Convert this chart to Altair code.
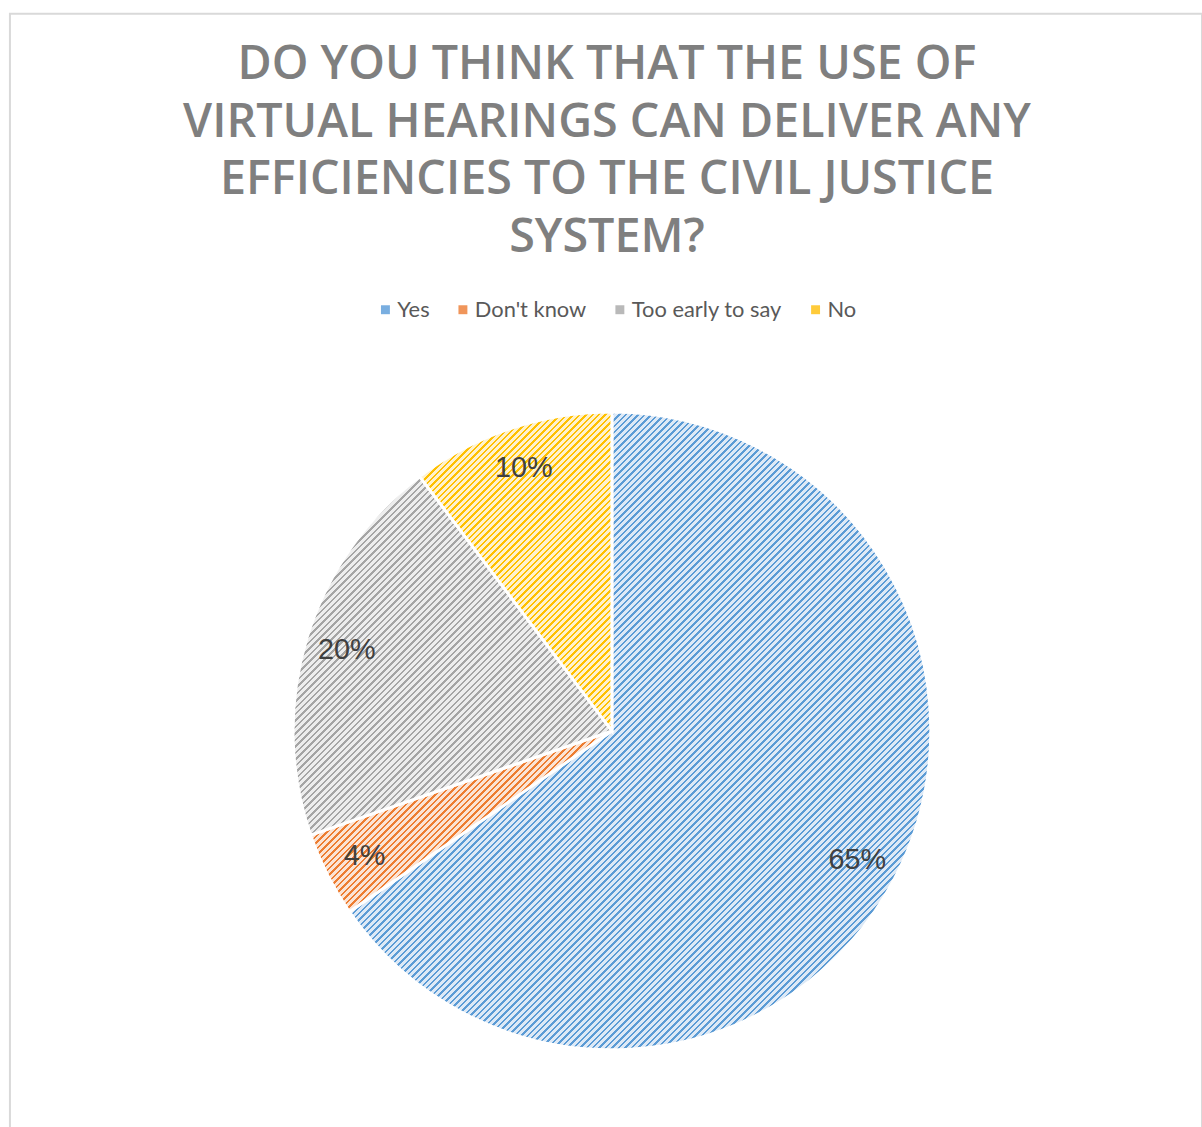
import math
import altair as alt
import pandas as pd

categories = ["Yes", "Don't know", "Too early to say", "No"]
values = [65.4, 4.3, 20.0, 10.3]
labels = ["65%", "4%", "20%", "10%"]
stripe_dark = ["#5b9bd5", "#ed7d31", "#a5a5a5", "#ffc000"]
stripe_light = ["#dde9f6", "#fbe4d5", "#ededed", "#fff2cc"]
legend_colors = ["#79aee0", "#f0955a", "#b9b9b9", "#ffcb3a"]

title_lines = [
    "DO YOU THINK THAT THE USE OF",
    "VIRTUAL HEARINGS CAN DELIVER ANY",
    "EFFICIENCIES TO THE CIVIL JUSTICE",
    "SYSTEM?",
]

df = pd.DataFrame({
    "category": categories,
    "value": values,
    "label": labels,
    "order": list(range(len(categories))),
})

CX, CY = 606, 722
R = 321
PERIOD = 6.5
DARK_FRAC = 0.38
TOTAL = sum(values)
theta_scale = alt.Scale(domain=[0, TOTAL], range=[0, 2 * math.pi])


def slice_bbox(a0, a1):
    pts = [(0.0, 0.0)]
    for a in (a0, a1):
        pts.append((math.sin(a) * R, -math.cos(a) * R))
    for k in range(5):
        a = k * math.pi / 2
        if a0 < a < a1:
            pts.append((math.sin(a) * R, -math.cos(a) * R))
    xs = [p[0] for p in pts]
    ys = [p[1] for p in pts]
    return max(xs) - min(xs), max(ys) - min(ys)


def stripe_gradient(w, h, dark, light):
    span = w + h
    k = span / (w * w + h * h)
    stops = []
    n = 0
    while n * PERIOD < span:
        p0 = n * PERIOD / span
        p1 = min((n + DARK_FRAC) * PERIOD / span, 1.0)
        p2 = min((n + 1) * PERIOD / span, 1.0)
        stops += [
            {"offset": round(p0, 5), "color": dark},
            {"offset": round(p1, 5), "color": dark},
            {"offset": round(p1, 5), "color": light},
            {"offset": round(p2, 5), "color": light},
        ]
        n += 1
    return {"gradient": "linear", "x1": 0, "y1": 0,
            "x2": round(w * k, 5), "y2": round(h * k, 5), "stops": stops}


grads = []
acc = 0.0
for v, d, l in zip(values, stripe_dark, stripe_light):
    a0 = acc / TOTAL * 2 * math.pi
    acc += v
    a1 = acc / TOTAL * 2 * math.pi
    w, h = slice_bbox(a0, a1)
    grads.append(stripe_gradient(w, h, d, l))

base = alt.Chart(df).encode(
    theta=alt.Theta("value:Q", stack=True, scale=theta_scale),
    order=alt.Order("order:Q"),
)

pie_legend = base.mark_arc(radius=R, stroke="white", strokeWidth=3).encode(
    x=alt.value(CX),
    y=alt.value(CY),
    color=alt.Color(
        "category:N",
        scale=alt.Scale(domain=categories, range=legend_colors),
        sort=categories,
        legend=alt.Legend(
            title=None,
            orient="none",
            legendX=367,
            legendY=287,
            direction="horizontal",
            columns=4,
            symbolType="square",
            symbolSize=81,
            symbolStrokeWidth=0,
            labelFont="Lato",
            labelFontSize=22,
            labelColor="#595959",
            labelOffset=1,
            columnPadding=22,
            padding=0,
        ),
    ),
)

hatch_layers = []
for cat, grad in zip(categories, grads):
    layer = (
        alt.Chart(df)
        .transform_window(cum="sum(value)", sort=[alt.SortField("order")], frame=[None, 0])
        .transform_calculate(start="datum.cum - datum.value")
        .transform_filter(alt.FieldEqualPredicate(field="category", equal=cat))
        .mark_arc(radius=R, stroke="white", strokeWidth=3, fill=grad)
        .encode(
            theta=alt.Theta("start:Q", scale=theta_scale),
            theta2="cum:Q",
            x=alt.value(CX),
            y=alt.value(CY),
        )
    )
    hatch_layers.append(layer)

text = base.mark_text(
    radius=279, font="Liberation Sans", fontSize=29, color="#404040"
).encode(
    x=alt.value(CX),
    y=alt.value(CY),
    text="label:N",
)

title = alt.Chart(df).mark_text(
    font="Open Sans",
    fontWeight=600,
    fontSize=47,
    color="#7f7f7f",
    align="center",
    baseline="alphabetic",
    lineBreak="\n",
    lineHeight=58,
).encode(
    x=alt.value(601),
    y=alt.value(66),
    text=alt.value("\n".join(title_lines)),
).transform_filter(alt.datum.order == 0)

chart = alt.layer(pie_legend, *hatch_layers, text, title).properties(
    width=1200,
    height=1130,
    padding={"left": 10, "top": 10, "right": 0, "bottom": 0},
    autosize=alt.AutoSizeParams(type="none"),
    background="white",
).configure_view(stroke="#d9d9d9", strokeWidth=2)

chart.save("out.html", embed_options={"renderer": "svg", "actions": False})
